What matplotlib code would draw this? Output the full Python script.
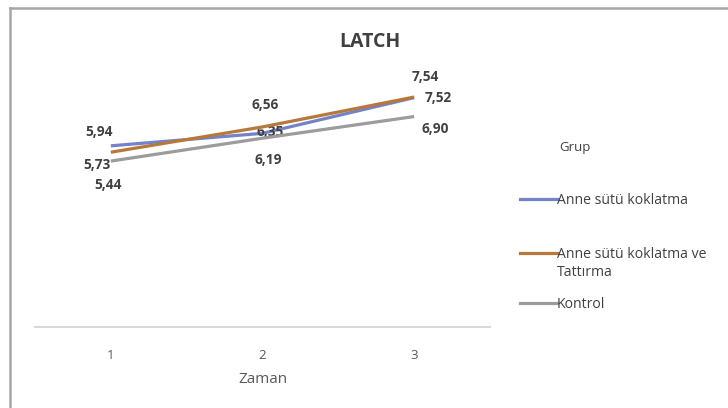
import matplotlib
matplotlib.use("Agg")
import matplotlib.pyplot as plt
from matplotlib.lines import Line2D

plt.rcParams['font.family'] = ['Open Sans', 'DejaVu Sans']

# Data
times = [1, 2, 3]
tick_labels = ["1", "2", "3"]
series_names = ["Anne sütü koklatma", "Anne sütü koklatma ve\nTattırma", "Kontrol"]
anne_sutu = [5.94, 6.35, 7.52]
anne_sutu_tattirma = [5.73, 6.56, 7.54]
kontrol = [5.44, 6.19, 6.90]

series = [anne_sutu, anne_sutu_tattirma, kontrol]
colors = ["#7283C9", "#B8783A", "#9C9C9C"]
# label offsets in pixels (dx, dy)
offsets = [
    [(-12, 14), (8, 1), (24, 0)],
    [(-14, -13), (3, 22), (11, 20)],
    [(-3, -24), (6, -22), (21, -12)],
]

W, H = 728, 408
fig = plt.figure(figsize=(W / 100, H / 100), dpi=100)
fig.patch.set_facecolor("white")

ax_left, ax_right = 35 / W, 490 / W
ax_bottom = 1 - 327 / H
ymax = 9.0
ax_top = 1 - (327 - 30.5 * ymax) / H
ax = fig.add_axes([ax_left, ax_bottom, ax_right - ax_left, ax_top - ax_bottom])

for vals, c, offs in zip(series, colors, offsets):
    ax.plot(times, vals, color=c, lw=2.3, solid_capstyle="butt", zorder=3)
    for x, v, (dx, dy) in zip(times, vals, offs):
        ax.annotate(f"{v:.2f}".replace(".", ","), (x, v), xytext=(dx, dy),
                    textcoords="offset pixels", ha="center", va="center",
                    fontsize=9.8, fontweight="bold", color="#404040")

ax.set_xlim(0.5, 3.5)
ax.set_ylim(0, ymax)
ax.set_xticks(times)
ax.set_xticklabels(tick_labels)
ax.set_yticks([])
ax.tick_params(axis="x", length=0, pad=16, labelsize=9.5, labelcolor="#595959")
for s in ["top", "right", "left"]:
    ax.spines[s].set_visible(False)
ax.spines["bottom"].set_color("#D9D9D9")
ax.spines["bottom"].set_linewidth(1.5)
ax.set_xlabel("Zaman", fontsize=11, color="#595959", labelpad=7)
ax.patch.set_alpha(0)

fig.text(370 / W, 1 - 42 / H, "LATCH", ha="center", va="center",
         fontsize=14, fontweight="bold", color="#404040")

# Legend
fig.text(575 / W, 1 - 148 / H, "Grup", ha="center", va="center",
         fontsize=9.5, color="#404040")
leg_y = [199, 253, 303]
for name, c, y in zip(series_names, colors, leg_y):
    fig.add_artist(Line2D([520 / W, 557 / W], [1 - y / H, 1 - y / H],
                          color=c, lw=2.3, transform=fig.transFigure))
    for i, line in enumerate(name.split("\n")):
        fig.text(557 / W, 1 - (y + 1 + i * 19) / H, line, ha="left", va="center",
                 fontsize=10.1, color="#404040")

# Frame lines
fig.add_artist(Line2D([10 / W, 1], [1 - 8 / H, 1 - 8 / H], color="#A6A6A6", lw=1.8,
                      transform=fig.transFigure))
fig.add_artist(Line2D([10 / W, 10 / W], [0, 1 - 8 / H], color="#A6A6A6", lw=1.8,
                      transform=fig.transFigure))

fig.savefig("out.png", dpi=100)
